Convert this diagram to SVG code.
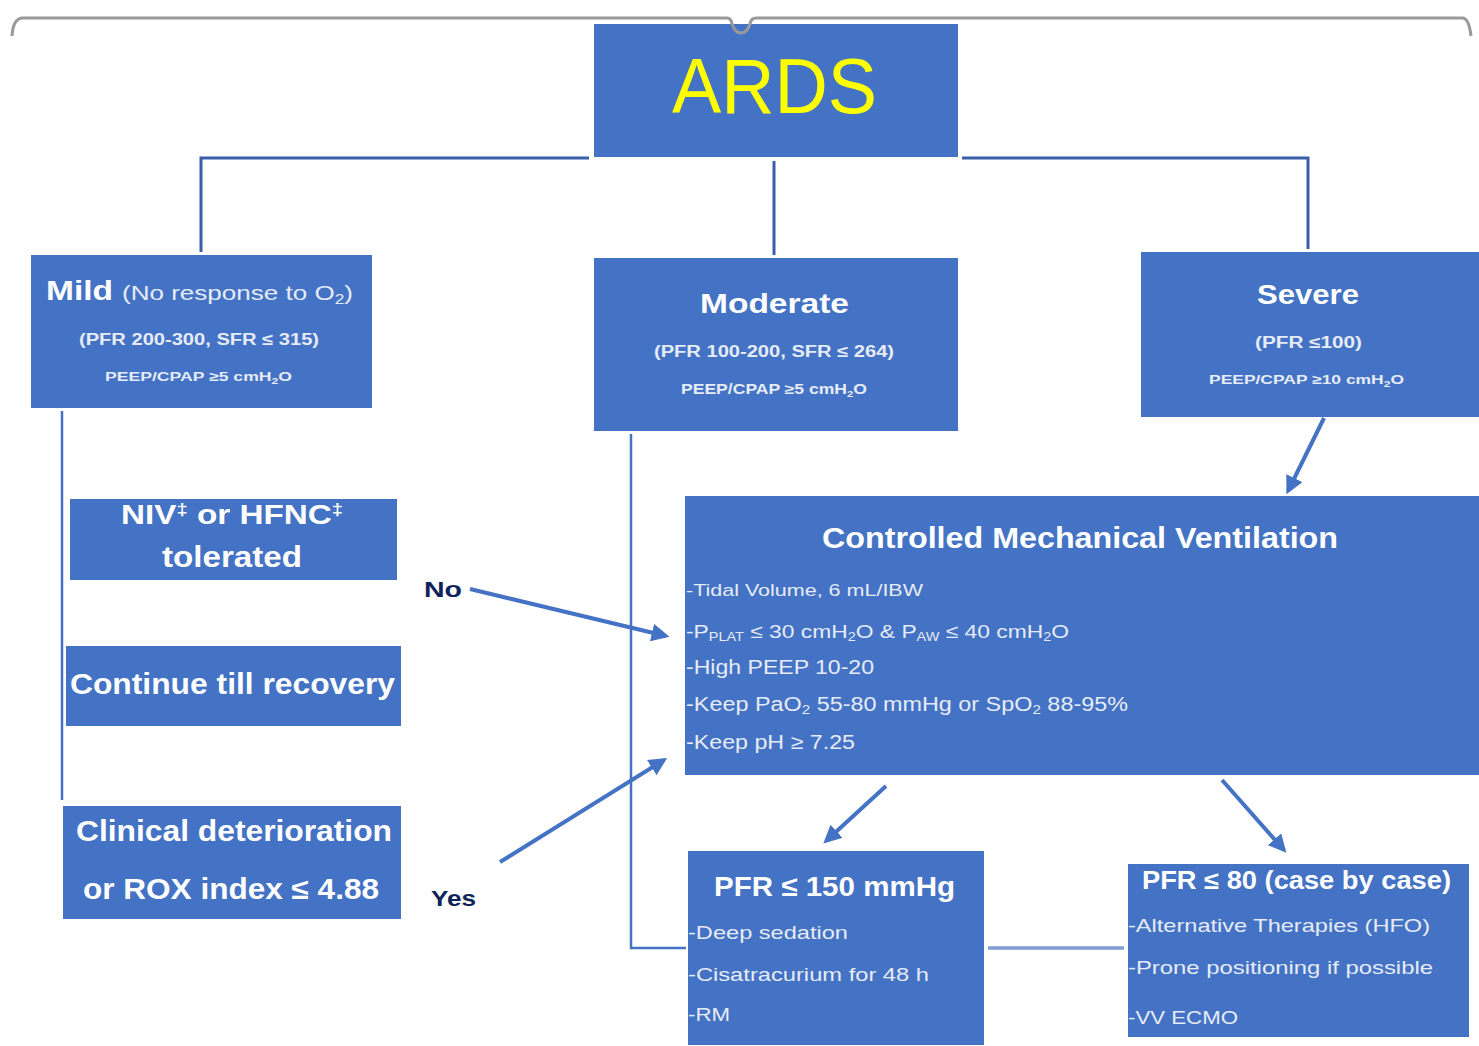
<svg xmlns="http://www.w3.org/2000/svg" width="1479" height="1046" viewBox="0 0 1479 1046">
<style>
  .box{fill:#4472C4}
  text{font-family:"Liberation Sans",Arial,sans-serif;fill:#fff}
  .b{font-weight:bold}
  .s{fill:#E6ECF7}
  .lbl{fill:#0E2357;font-weight:bold}
  .conn{stroke:#3A5FA8;stroke-width:3;fill:none}
  .thin{stroke:#4472C4;stroke-width:2.5;fill:none}
  .arr{stroke:#4472C4;stroke-width:4;fill:none;marker-end:url(#ah)}
</style>
<defs>
  <marker id="ah" viewBox="0 0 10 10" refX="8" refY="5" markerWidth="4.5" markerHeight="4.5" orient="auto" markerUnits="strokeWidth">
    <path d="M0,0 L10,5 L0,10 Z" fill="#4472C4"/>
  </marker>
</defs>
<rect width="1479" height="1046" fill="#fff"/>

<g id="connectors">
  <path class="conn" d="M589,158 H201 V252"/>
  <path class="conn" d="M962,158 H1308 V249"/>
  <path class="conn" d="M774,161 V255"/>
  <path class="thin" d="M62,411 V800"/>
  <path class="thin" d="M631,434 V948 H686"/>
  <path d="M988,948 H1124" stroke="#7E9CD2" stroke-width="3.5"/>
  <path class="arr" d="M470,589 L666,636"/>
  <path class="arr" d="M500,862 L664,760"/>
  <path class="arr" d="M1324,418 L1288,491"/>
  <path class="arr" d="M886,786 L826,841"/>
  <path class="arr" d="M1222,780 L1284,850"/>
  <text class="lbl" x="424" y="597" font-size="22" textLength="38" lengthAdjust="spacingAndGlyphs">No</text>
  <text class="lbl" x="431" y="906" font-size="22" textLength="45" lengthAdjust="spacingAndGlyphs">Yes</text>
</g>

<g id="ards">
  <rect class="box" x="594" y="24" width="364" height="133"/>
  <text x="672" y="113" font-size="78" style="fill:#FFFF00" textLength="205" lengthAdjust="spacingAndGlyphs">ARDS</text>
</g>

<g id="bracket">
  <path d="M12,36 Q13,19 22,18 L727,18 Q731,18 732,24 Q735,33 741,33 Q747,33 750,24 Q751,18 756,18 L1463,18 Q1469,19 1471,36" stroke="#999" stroke-width="3" fill="none"/>
</g>

<g id="mild">
  <rect class="box" x="31" y="255" width="341" height="153"/>
  <text class="b" x="46" y="300" font-size="28" textLength="67" lengthAdjust="spacingAndGlyphs">Mild</text>
  <text class="s" x="122" y="300" font-size="21" textLength="231" lengthAdjust="spacingAndGlyphs">(No response to O<tspan font-size="14" dy="4">2</tspan><tspan dy="-4">)</tspan></text>
  <text class="b s" x="79" y="345" font-size="16" textLength="240" lengthAdjust="spacingAndGlyphs">(PFR 200-300, SFR ≤ 315)</text>
  <text class="b s" x="105" y="381" font-size="13" textLength="187" lengthAdjust="spacingAndGlyphs">PEEP/CPAP ≥5 cmH<tspan font-size="9" dy="3">2</tspan><tspan dy="-3">O</tspan></text>
</g>

<g id="moderate">
  <rect class="box" x="594" y="258" width="364" height="173"/>
  <text class="b" x="700" y="313" font-size="28" textLength="149" lengthAdjust="spacingAndGlyphs">Moderate</text>
  <text class="b s" x="654" y="357" font-size="16" textLength="240" lengthAdjust="spacingAndGlyphs">(PFR 100-200, SFR ≤ 264)</text>
  <text class="b s" x="681" y="394" font-size="14" textLength="186" lengthAdjust="spacingAndGlyphs">PEEP/CPAP ≥5 cmH<tspan font-size="9" dy="3">2</tspan><tspan dy="-3">O</tspan></text>
</g>

<g id="severe">
  <rect class="box" x="1141" y="252" width="338" height="165"/>
  <text class="b" x="1257" y="304" font-size="28" textLength="102" lengthAdjust="spacingAndGlyphs">Severe</text>
  <text class="b s" x="1255" y="348" font-size="16" textLength="107" lengthAdjust="spacingAndGlyphs">(PFR ≤100)</text>
  <text class="b s" x="1209" y="384" font-size="13" textLength="195" lengthAdjust="spacingAndGlyphs">PEEP/CPAP ≥10 cmH<tspan font-size="9" dy="3">2</tspan><tspan dy="-3">O</tspan></text>
</g>

<g id="niv">
  <rect class="box" x="70" y="499" width="327" height="81"/>
  <text class="b" x="121" y="524" font-size="28" textLength="222" lengthAdjust="spacingAndGlyphs">NIV<tspan font-size="17" dy="-9">‡</tspan><tspan dy="9"> or HFNC</tspan><tspan font-size="17" dy="-9">‡</tspan></text>
  <text class="b" x="162" y="567" font-size="29" textLength="140" lengthAdjust="spacingAndGlyphs">tolerated</text>
</g>

<g id="continue">
  <rect class="box" x="66" y="646" width="335" height="80"/>
  <text class="b" x="70" y="694" font-size="29" textLength="325" lengthAdjust="spacingAndGlyphs">Continue till recovery</text>
</g>

<g id="clinical">
  <rect class="box" x="63" y="806" width="338" height="113"/>
  <text class="b" x="76" y="841" font-size="29" textLength="316" lengthAdjust="spacingAndGlyphs">Clinical deterioration</text>
  <text class="b" x="83" y="899" font-size="29" textLength="296" lengthAdjust="spacingAndGlyphs">or ROX index ≤ 4.88</text>
</g>

<g id="cmv">
  <rect class="box" x="685" y="496" width="794" height="279"/>
  <text class="b" x="822" y="548" font-size="29" textLength="516" lengthAdjust="spacingAndGlyphs">Controlled Mechanical Ventilation</text>
  <text class="s" x="686" y="596" font-size="17" textLength="237" lengthAdjust="spacingAndGlyphs">-Tidal Volume, 6 mL/IBW</text>
  <text class="s" x="686" y="638" font-size="19" textLength="383" lengthAdjust="spacingAndGlyphs">-P<tspan font-size="12" dy="3">PLAT</tspan><tspan dy="-3"> ≤ 30 cmH</tspan><tspan font-size="12" dy="3">2</tspan><tspan dy="-3">O &amp; P</tspan><tspan font-size="12" dy="3">AW</tspan><tspan dy="-3"> ≤ 40 cmH</tspan><tspan font-size="12" dy="3">2</tspan><tspan dy="-3">O</tspan></text>
  <text class="s" x="686" y="674" font-size="20" textLength="188" lengthAdjust="spacingAndGlyphs">-High PEEP 10-20</text>
  <text class="s" x="686" y="711" font-size="20" textLength="442" lengthAdjust="spacingAndGlyphs">-Keep PaO<tspan font-size="13" dy="3">2</tspan><tspan dy="-3"> 55-80 mmHg or SpO</tspan><tspan font-size="13" dy="3">2</tspan><tspan dy="-3"> 88-95%</tspan></text>
  <text class="s" x="686" y="749" font-size="20" textLength="169" lengthAdjust="spacingAndGlyphs">-Keep pH ≥ 7.25</text>
</g>

<g id="pfr150">
  <rect class="box" x="688" y="851" width="296" height="194"/>
  <text class="b" x="714" y="896" font-size="28" textLength="241" lengthAdjust="spacingAndGlyphs">PFR ≤ 150 mmHg</text>
  <text class="s" x="688" y="939" font-size="19" textLength="160" lengthAdjust="spacingAndGlyphs">-Deep sedation</text>
  <text class="s" x="688" y="981" font-size="19" textLength="241" lengthAdjust="spacingAndGlyphs">-Cisatracurium for 48 h</text>
  <text class="s" x="688" y="1021" font-size="19" textLength="42" lengthAdjust="spacingAndGlyphs">-RM</text>
</g>

<g id="pfr80">
  <rect class="box" x="1128" y="864" width="341" height="173"/>
  <text class="b" x="1142" y="889" font-size="25" textLength="309" lengthAdjust="spacingAndGlyphs">PFR ≤ 80 (case by case)</text>
  <text class="s" x="1128" y="932" font-size="19" textLength="302" lengthAdjust="spacingAndGlyphs">-Alternative Therapies (HFO)</text>
  <text class="s" x="1128" y="974" font-size="19" textLength="305" lengthAdjust="spacingAndGlyphs">-Prone positioning if possible</text>
  <text class="s" x="1128" y="1024" font-size="19" textLength="110" lengthAdjust="spacingAndGlyphs">-VV ECMO</text>
</g>
</svg>
